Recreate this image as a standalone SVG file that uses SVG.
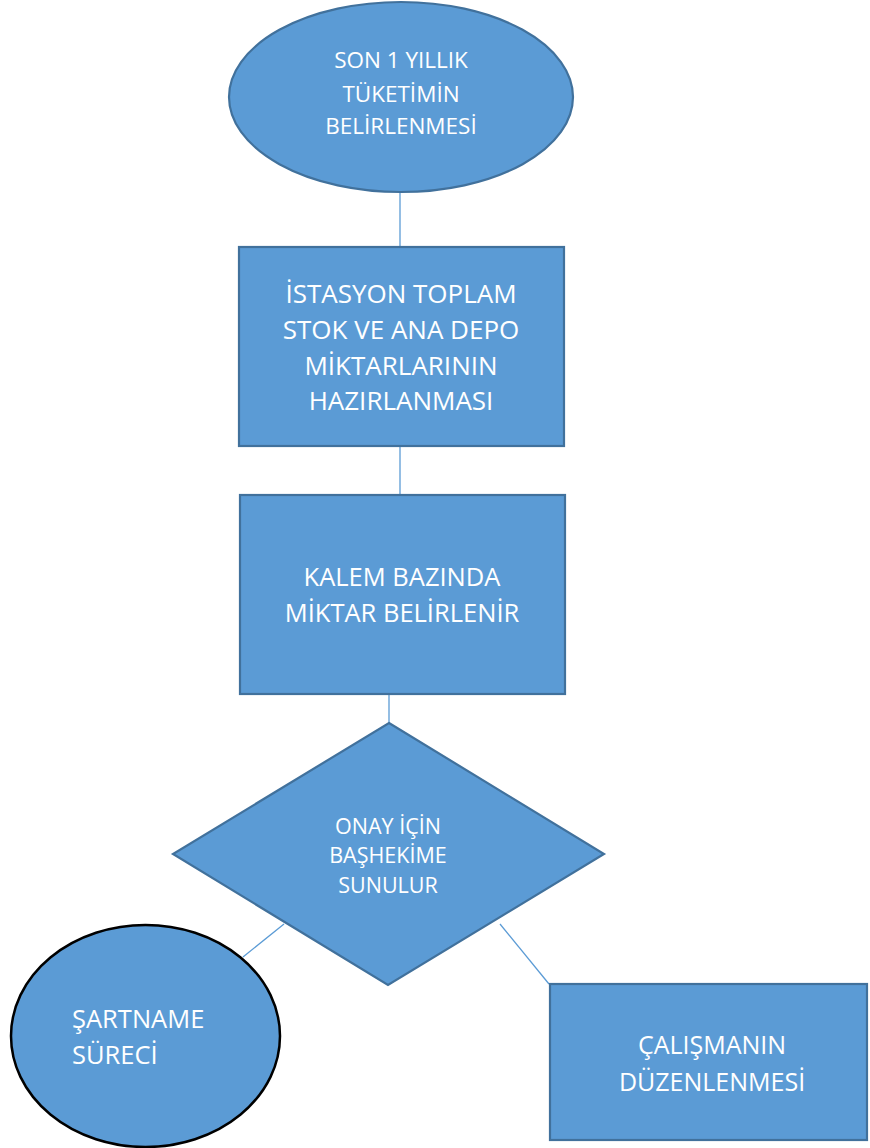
<svg xmlns="http://www.w3.org/2000/svg" width="870" height="1148" viewBox="0 0 870 1148">
  <style>
    .shape { fill: #5b9bd5; stroke: #41719c; stroke-width: 2.2; }
    .dark { fill: #5b9bd5; stroke: #000000; stroke-width: 2.5; }
    .lbl { fill: #ffffff; font-family: "Open Sans", "Noto Sans", "Liberation Sans", sans-serif; text-anchor: middle; }
    .left { text-anchor: start; }
    .conn { stroke: #5b9bd5; stroke-width: 1.3; fill: none; }
  </style>
  <rect width="870" height="1148" fill="#ffffff"/>

  <!-- connectors -->
  <g id="connectors">
    <line class="conn" x1="400" y1="192" x2="400" y2="247"/>
    <line class="conn" x1="400" y1="446" x2="400" y2="495"/>
    <line class="conn" x1="389" y1="694" x2="389" y2="723"/>
    <line class="conn" x1="284" y1="924" x2="243" y2="957"/>
    <line class="conn" x1="500" y1="924" x2="549" y2="984"/>
  </g>

  <g id="start">
    <ellipse class="shape" cx="401" cy="97" rx="172" ry="95"/>
    <text class="lbl" font-size="22.5" x="401" y="68">SON 1 YILLIK</text>
    <text class="lbl" font-size="22.5" x="401" y="102">TÜKETİMİN</text>
    <text class="lbl" font-size="22.5" x="401" y="134">BELİRLENMESİ</text>
  </g>

  <g id="stock">
    <rect class="shape" x="239" y="247" width="325" height="199"/>
    <text class="lbl" font-size="26" x="401" y="303">İSTASYON TOPLAM</text>
    <text class="lbl" font-size="26" x="401" y="339">STOK VE ANA DEPO</text>
    <text class="lbl" font-size="26" x="401" y="375">MİKTARLARININ</text>
    <text class="lbl" font-size="26" x="401" y="410">HAZIRLANMASI</text>
  </g>

  <g id="quantity">
    <rect class="shape" x="240" y="495" width="325" height="199"/>
    <text class="lbl" font-size="25.5" x="402" y="586">KALEM BAZINDA</text>
    <text class="lbl" font-size="25.5" x="402" y="622">MİKTAR BELİRLENİR</text>
  </g>

  <g id="approval">
    <polygon class="shape" points="389,723 604,854 388,985 173,854"/>
    <text class="lbl" font-size="21.5" x="388" y="834">ONAY İÇİN</text>
    <text class="lbl" font-size="21.5" x="388" y="863">BAŞHEKİME</text>
    <text class="lbl" font-size="21.5" x="388" y="893">SUNULUR</text>
  </g>

  <g id="specification">
    <ellipse class="dark" cx="145.5" cy="1036" rx="134.5" ry="111"/>
    <text class="lbl left" font-size="25.5" x="72" y="1028">ŞARTNAME</text>
    <text class="lbl left" font-size="25.5" x="72" y="1064">SÜRECİ</text>
  </g>

  <g id="revision">
    <rect class="shape" x="550" y="984" width="317" height="156"/>
    <text class="lbl" font-size="25" x="712" y="1054">ÇALIŞMANIN</text>
    <text class="lbl" font-size="25" x="712" y="1091">DÜZENLENMESİ</text>
  </g>
</svg>
